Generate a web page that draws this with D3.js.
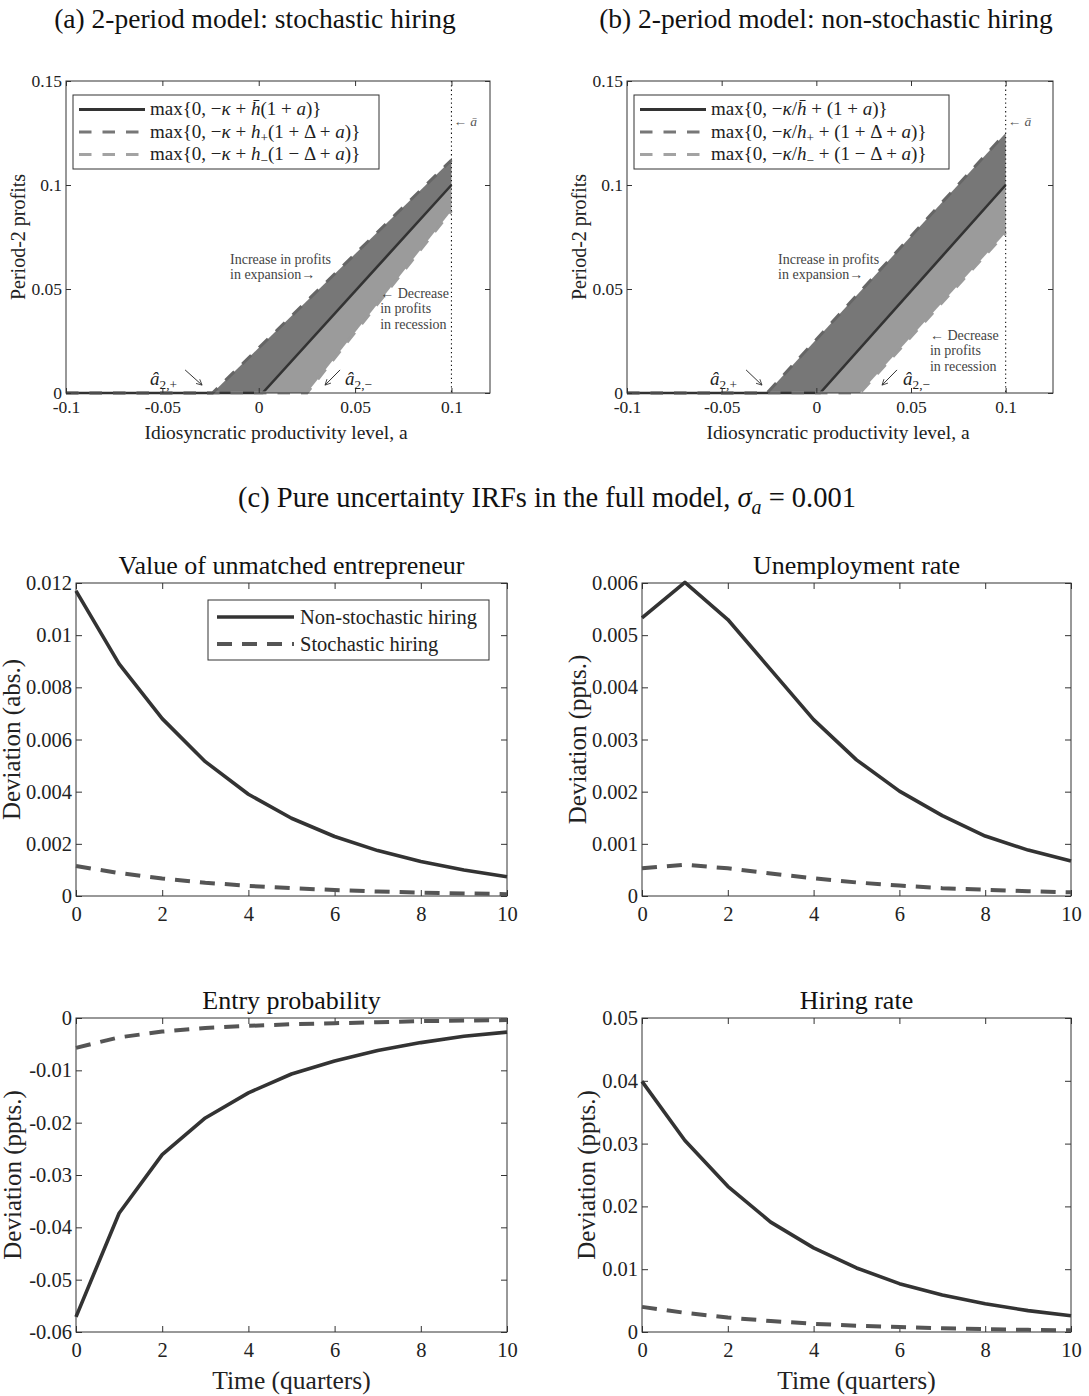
<!DOCTYPE html>
<html>
<head>
<meta charset="utf-8">
<script src="https://cdn.jsdelivr.net/npm/d3@7"></script>
<style>
  body { margin: 0; background: #fff; }
  svg text { font-family: "Liberation Serif", "Times New Roman", Times, serif; }
</style>
</head>
<body>
<div id="fig"></div>
<script>
// ---- (a)/(b) period-2 profits: kink points [a, profit] ----
const aTicks = [-0.1, -0.05, 0, 0.05, 0.1];
const aTickLabels = ['-0.1', '-0.05', '0', '0.05', '0.1'];
const profitTicks = [0, 0.05, 0.1, 0.15];
const profitTickLabels = ['0', '0.05', '0.1', '0.15'];
const aBar = 0.1;

const stochHbar   = [[-0.1, 0], [0.002, 0], [0.1, 0.1]];
const stochHplus  = [[-0.1, 0], [-0.024, 0], [0.1, 0.112]];
const stochHminus = [[-0.1, 0], [0.025, 0], [0.1, 0.0876]];

const nonHbar   = [[-0.1, 0], [0.002, 0], [0.1, 0.1]];
const nonHplus  = [[-0.1, 0], [-0.026, 0], [0.1, 0.125]];
const nonHminus = [[-0.1, 0], [0.023, 0], [0.1, 0.077]];

// ---- (c) IRFs ----
const quarters = [0, 1, 2, 3, 4, 5, 6, 7, 8, 9, 10];
const quarterTicks = [0, 2, 4, 6, 8, 10];
const quarterTickLabels = ['0', '2', '4', '6', '8', '10'];

const valueNonStoch = [0.0117, 0.0089, 0.0068, 0.00515, 0.0039, 0.00298, 0.00228, 0.00174, 0.00132, 0.0010, 0.00074];
const valueStoch    = [0.00115, 0.00088, 0.00067, 0.00051, 0.00039, 0.0003, 0.00023, 0.00017, 0.00013, 0.0001, 0.00007];
const unempNonStoch = [0.00533, 0.00601, 0.0053, 0.00434, 0.00338, 0.00261, 0.00201, 0.00154, 0.00115, 0.00088, 0.00067];
const unempStoch    = [0.00053, 0.0006, 0.00053, 0.00043, 0.00034, 0.00026, 0.0002, 0.00015, 0.00012, 0.00009, 0.00007];
const entryNonStoch = [-0.0571, -0.0373, -0.0261, -0.0191, -0.0143, -0.0107, -0.0082, -0.0062, -0.0047, -0.0035, -0.0027];
const entryStoch    = [-0.0057, -0.0037, -0.0026, -0.0019, -0.0015, -0.0012, -0.001, -0.0008, -0.0006, -0.0005, -0.0004];
const hireNonStoch  = [0.0399, 0.0305, 0.0232, 0.0175, 0.0134, 0.0102, 0.0077, 0.0059, 0.0045, 0.0034, 0.0026];
const hireStoch     = [0.004, 0.00305, 0.0023, 0.00175, 0.0013, 0.001, 0.0008, 0.0006, 0.00045, 0.00034, 0.00026];

const valueTicks = [0, 0.002, 0.004, 0.006, 0.008, 0.01, 0.012];
const valueTickLabels = ['0', '0.002', '0.004', '0.006', '0.008', '0.01', '0.012'];
const unempTicks = [0, 0.001, 0.002, 0.003, 0.004, 0.005, 0.006];
const unempTickLabels = ['0', '0.001', '0.002', '0.003', '0.004', '0.005', '0.006'];
const entryTicks = [-0.06, -0.05, -0.04, -0.03, -0.02, -0.01, 0];
const entryTickLabels = ['-0.06', '-0.05', '-0.04', '-0.03', '-0.02', '-0.01', '0'];
const hireTicks = [0, 0.01, 0.02, 0.03, 0.04, 0.05];
const hireTickLabels = ['0', '0.01', '0.02', '0.03', '0.04', '0.05'];

(function () {
  const ink = '#333';
  const darkGrey = '#777';
  const lightGrey = '#9b9b9b';

  const svg = d3.select('#fig').append('svg')
    .attr('width', 1089).attr('height', 1396)
    .attr('viewBox', '0 0 1089 1396');

  svg.append('defs').append('marker')
    .attr('id', 'arr').attr('viewBox', '0 0 10 10')
    .attr('refX', 9).attr('refY', 5)
    .attr('markerWidth', 7).attr('markerHeight', 7)
    .attr('orient', 'auto')
    .append('path').attr('d', 'M1,1 L9,5 L1,9')
    .attr('fill', 'none').attr('stroke', '#333').attr('stroke-width', 1.2);

  // text with italics / subscripts: parts = [[text, 'i'|'s'|'si'], ...]
  function math(sel, parts, size) {
    let down = false;
    parts.forEach(([t, st = '']) => {
      const ts = sel.append('tspan').text(t);
      if (st.includes('i')) ts.attr('font-style', 'italic');
      const sub = st.includes('s');
      if (sub) ts.attr('font-size', size * 0.7);
      if (sub && !down) ts.attr('dy', size * 0.25);
      if (!sub && down) ts.attr('dy', -size * 0.25);
      down = sub;
    });
    return sel;
  }

  function frame(g, x, y, o) {
    const [x0, x1] = x.range();
    const [yb, yt] = y.range();
    const fmt = labels => (d, i) => labels[i];
    const style = s => {
      s.select('.domain').remove();
      s.attr('font-family', null).attr('font-size', o.fs);
      s.selectAll('line').attr('stroke', ink);
      s.selectAll('text').attr('fill', '#222');
    };
    g.append('g').attr('transform', `translate(0,${yb})`)
      .call(d3.axisBottom(x).tickValues(o.xt).tickFormat(fmt(o.xl)).tickSize(-o.tk).tickPadding(o.xpad))
      .call(style);
    g.append('g').attr('transform', `translate(0,${yt})`)
      .call(d3.axisTop(x).tickValues(o.xt).tickFormat('').tickSize(-o.tk))
      .call(style);
    g.append('g').attr('transform', `translate(${x0},0)`)
      .call(d3.axisLeft(y).tickValues(o.yt).tickFormat(fmt(o.yl)).tickSize(-o.tk).tickPadding(o.ypad))
      .call(style);
    g.append('g').attr('transform', `translate(${x1},0)`)
      .call(d3.axisRight(y).tickValues(o.yt).tickFormat('').tickSize(-o.tk))
      .call(style);
    g.append('rect')
      .attr('x', x0).attr('y', yt).attr('width', x1 - x0).attr('height', yb - yt)
      .attr('fill', 'none').attr('stroke', ink).attr('stroke-width', 1);
  }

  // ===== panels (a) and (b) =====
  function profitPanel(o) {
    const g = svg.append('g');
    const x = d3.scaleLinear().domain([-0.1, o.aMax]).range([o.left, o.right]);
    const y = d3.scaleLinear().domain([0, 0.15]).range([o.bottom, o.top]);
    const line = d3.line().x(d => x(d[0])).y(d => y(d[1]));

    // shaded gaps between the lines
    g.append('path')
      .attr('d', line([...o.plus.slice(1), ...o.bar.slice(1).reverse()]) + 'Z')
      .attr('fill', darkGrey);
    g.append('path')
      .attr('d', line([...o.bar.slice(1), ...o.minus.slice(1).reverse()]) + 'Z')
      .attr('fill', lightGrey);

    g.append('path').attr('d', line(o.bar))
      .attr('fill', 'none').attr('stroke', ink).attr('stroke-width', 2.6);
    g.append('path').attr('d', line(o.minus))
      .attr('fill', 'none').attr('stroke', lightGrey).attr('stroke-width', 3)
      .attr('stroke-dasharray', '12.5,11');
    g.append('path').attr('d', line(o.plus))
      .attr('fill', 'none').attr('stroke', '#666').attr('stroke-width', 3)
      .attr('stroke-dasharray', '12.5,11');

    // a-bar marker
    g.append('line')
      .attr('x1', x(aBar)).attr('x2', x(aBar)).attr('y1', o.top).attr('y2', o.bottom)
      .attr('stroke', '#111').attr('stroke-width', 1.1).attr('stroke-dasharray', '1.3,3');
    math(g.append('text').attr('x', x(aBar) + 2).attr('y', y(0.1305)).attr('dy', '0.35em')
      .attr('font-size', 13.5).attr('fill', '#555'), [['← '], ['ā', 'i']], 13.5);

    frame(g, x, y, { xt: aTicks, xl: aTickLabels, yt: profitTicks, yl: profitTickLabels,
      tk: 5, fs: 17.5, xpad: 8, ypad: 4 });

    // notes
    const note = (a, v, lines, gap) => lines.forEach((t, i) =>
      g.append('text').attr('x', x(a)).attr('y', y(v) + i * gap).attr('dy', '0.35em')
        .attr('font-size', 14).attr('fill', '#444').text(t));
    note(o.incA, o.incV, ['Increase in profits', 'in expansion→'], 15);
    note(o.decA, o.decV, ['← Decrease', 'in profits', 'in recession'], 15.5);

    const hat = (a, sign) => math(g.append('text').attr('x', x(a)).attr('y', y(0.0072)).attr('dy', '0.35em')
      .attr('font-size', 19).attr('fill', '#222'), [['â', 'i'], ['2,' + sign, 's']], 19);
    hat(o.hatPlus, '+');
    hat(o.hatMinus, '−');
    const arrow = (a1, a2) => g.append('line')
      .attr('x1', x(a1)).attr('y1', y(0.0111)).attr('x2', x(a2)).attr('y2', y(0.0038))
      .attr('stroke', '#333').attr('stroke-width', 1).attr('marker-end', 'url(#arr)');
    arrow(o.arrPlus[0], o.arrPlus[1]);
    arrow(o.arrMinus[0], o.arrMinus[1]);

    // legend
    const lg = g.append('g').attr('transform', `translate(${o.left + 7},${o.top + 14})`);
    lg.append('rect').attr('width', o.legW).attr('height', 74)
      .attr('fill', '#fff').attr('stroke', ink).attr('stroke-width', 1);
    const samples = [
      { stroke: ink, dash: null },
      { stroke: '#777', dash: '12.5,11' },
      { stroke: '#a3a3a3', dash: '12.5,11' }
    ];
    o.legend.forEach((parts, i) => {
      const yy = 14.5 + i * 22.5;
      lg.append('line').attr('x1', 6).attr('x2', 72).attr('y1', yy).attr('y2', yy)
        .attr('stroke', samples[i].stroke).attr('stroke-width', 3)
        .attr('stroke-dasharray', samples[i].dash);
      math(lg.append('text').attr('x', 77).attr('y', yy).attr('dy', '0.3em')
        .attr('font-size', 19).attr('fill', '#222'), parts, 19);
    });

    g.append('text').attr('transform', `translate(${o.left - 48},${(o.top + o.bottom) / 2}) rotate(-90)`)
      .attr('text-anchor', 'middle').attr('dy', '0.35em').attr('font-size', 20).attr('fill', '#222')
      .text('Period-2 profits');
    g.append('text').attr('x', (o.left + o.right) / 2 - 2).attr('y', o.bottom + 39)
      .attr('text-anchor', 'middle').attr('dy', '0.35em').attr('font-size', 19.5).attr('fill', '#222')
      .text('Idiosyncratic productivity level, a');
    g.append('text').attr('x', o.titleX).attr('y', 18).attr('dy', '0.35em')
      .attr('text-anchor', 'middle').attr('font-size', 27.5).attr('fill', '#111')
      .text(o.title);
  }

  profitPanel({
    left: 66, right: 490, top: 81, bottom: 393, aMax: 0.12,
    bar: stochHbar, plus: stochHplus, minus: stochHminus,
    incA: -0.0149, incV: 0.0644, decA: 0.063, decV: 0.0481,
    hatPlus: -0.0564, hatMinus: 0.0448,
    arrPlus: [-0.0382, -0.0294], arrMinus: [0.0422, 0.0344],
    legW: 306, titleX: 255,
    title: '(a) 2-period model: stochastic hiring',
    legend: [
      [['max{0, −'], ['κ', 'i'], [' + '], ['h\u0304', 'i'], ['(1 + '], ['a', 'i'], [')}']],
      [['max{0, −'], ['κ', 'i'], [' + '], ['h', 'i'], ['+', 's'], ['(1 + Δ + '], ['a', 'i'], [')}']],
      [['max{0, −'], ['κ', 'i'], [' + '], ['h', 'i'], ['−', 's'], ['(1 − Δ + '], ['a', 'i'], [')}']]
    ]
  });

  profitPanel({
    left: 627, right: 1053, top: 81, bottom: 393, aMax: 0.125,
    bar: nonHbar, plus: nonHplus, minus: nonHminus,
    incA: -0.0202, incV: 0.0644, decA: 0.06, decV: 0.0279,
    hatPlus: -0.0562, hatMinus: 0.0458,
    arrPlus: [-0.0371, -0.0287], arrMinus: [0.0426, 0.0347],
    legW: 315, titleX: 826,
    title: '(b) 2-period model: non-stochastic hiring',
    legend: [
      [['max{0, −'], ['κ', 'i'], ['/'], ['h\u0304', 'i'], [' + (1 + '], ['a', 'i'], [')}']],
      [['max{0, −'], ['κ', 'i'], ['/'], ['h', 'i'], ['+', 's'], [' + (1 + Δ + '], ['a', 'i'], [')}']],
      [['max{0, −'], ['κ', 'i'], ['/'], ['h', 'i'], ['−', 's'], [' + (1 − Δ + '], ['a', 'i'], [')}']]
    ]
  });

  // ===== panel (c) =====
  math(svg.append('text').attr('x', 547).attr('y', 497).attr('dy', '0.35em')
    .attr('text-anchor', 'middle').attr('font-size', 28.5).attr('fill', '#111'),
    [['(c) Pure uncertainty IRFs in the full model, '], ['σ', 'i'], ['a', 'si'], [' = 0.001']], 28.5);

  function irfPanel(o) {
    const g = svg.append('g');
    const x = d3.scaleLinear().domain([0, 10]).range([o.left, o.right]);
    const y = d3.scaleLinear().domain(o.yDomain).range([o.bottom, o.top]);
    const line = d3.line().x((d, i) => x(quarters[i])).y(d => y(d));

    frame(g, x, y, { xt: quarterTicks, xl: quarterTickLabels, yt: o.yt, yl: o.yl,
      tk: 6, fs: 20.5, xpad: 10, ypad: 4 });

    g.append('path').datum(o.stoch).attr('d', line)
      .attr('fill', 'none').attr('stroke', '#555').attr('stroke-width', 4)
      .attr('stroke-dasharray', '15,10');
    g.append('path').datum(o.non).attr('d', line)
      .attr('fill', 'none').attr('stroke', ink).attr('stroke-width', 3.6)
      .attr('stroke-linejoin', 'round');

    g.append('text').attr('x', (o.left + o.right) / 2).attr('y', o.top - 18).attr('dy', '0.35em')
      .attr('text-anchor', 'middle').attr('font-size', 26).attr('fill', '#111').text(o.title);
    g.append('text').attr('transform', `translate(${o.ylabX},${(o.top + o.bottom) / 2}) rotate(-90)`)
      .attr('text-anchor', 'middle').attr('dy', '0.35em').attr('font-size', 25).attr('fill', '#222')
      .text(o.ylab);
    if (o.xlab) {
      g.append('text').attr('x', (o.left + o.right) / 2).attr('y', o.bottom + 48).attr('dy', '0.35em')
        .attr('text-anchor', 'middle').attr('font-size', 25.5).attr('fill', '#222').text('Time (quarters)');
    }
    if (o.legend) {
      const lg = g.append('g').attr('transform', `translate(${o.right - 299},${o.top + 17})`);
      lg.append('rect').attr('width', 281).attr('height', 60)
        .attr('fill', '#fff').attr('stroke', ink).attr('stroke-width', 1);
      [['Non-stochastic hiring', ink, null, 3.6], ['Stochastic hiring', '#555', '15,10', 4]]
        .forEach(([t, c, dash, w], i) => {
          const yy = 17 + i * 27;
          lg.append('line').attr('x1', 9).attr('x2', 86).attr('y1', yy).attr('y2', yy)
            .attr('stroke', c).attr('stroke-width', w).attr('stroke-dasharray', dash);
          lg.append('text').attr('x', 92).attr('y', yy).attr('dy', '0.33em')
            .attr('font-size', 20.5).attr('fill', '#222').text(t);
        });
    }
  }

  irfPanel({ left: 76, right: 507, top: 583, bottom: 896, yDomain: [0, 0.012],
    yt: valueTicks, yl: valueTickLabels, non: valueNonStoch, stoch: valueStoch,
    title: 'Value of unmatched entrepreneur', ylab: 'Deviation (abs.)', ylabX: 11, legend: true });
  irfPanel({ left: 642, right: 1071, top: 583, bottom: 896, yDomain: [0, 0.006],
    yt: unempTicks, yl: unempTickLabels, non: unempNonStoch, stoch: unempStoch,
    title: 'Unemployment rate', ylab: 'Deviation (ppts.)', ylabX: 577 });
  irfPanel({ left: 76, right: 507, top: 1018, bottom: 1332, yDomain: [-0.06, 0],
    yt: entryTicks, yl: entryTickLabels, non: entryNonStoch, stoch: entryStoch,
    title: 'Entry probability', ylab: 'Deviation (ppts.)', ylabX: 12, xlab: true });
  irfPanel({ left: 642, right: 1071, top: 1018, bottom: 1332, yDomain: [0, 0.05],
    yt: hireTicks, yl: hireTickLabels, non: hireNonStoch, stoch: hireStoch,
    title: 'Hiring rate', ylab: 'Deviation (ppts.)', ylabX: 586, xlab: true });
})();
</script>
</body>
</html>
